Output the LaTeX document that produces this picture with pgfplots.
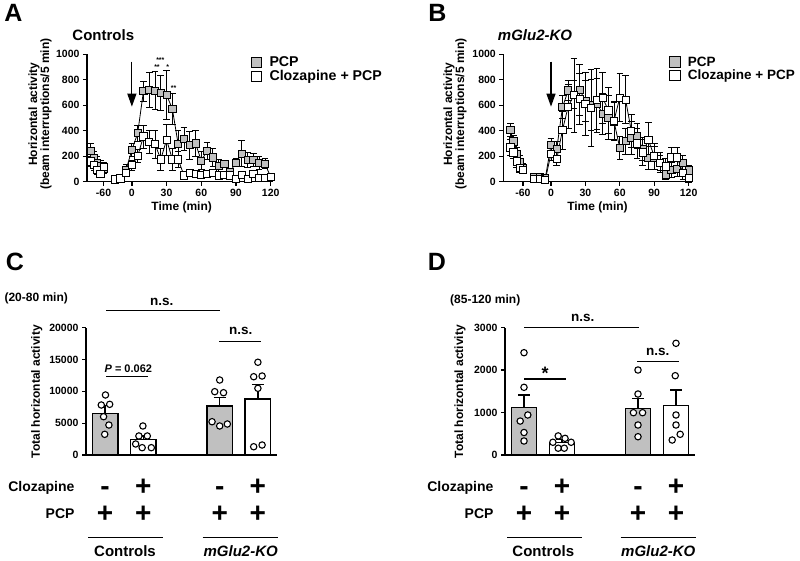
\documentclass[border=0pt]{standalone}
\usepackage{fontspec}
\setmainfont{Liberation Sans}
\usepackage{pgfplots}
\usepackage{pgfplotstable}
\pgfplotsset{compat=1.18}
\usetikzlibrary{arrows.meta}
\definecolor{pcpgray}{RGB}{192,192,192}
\newcommand\fsz[1]{\fontsize{#1}{#1}\selectfont}

% Panel A: controls (t in min; pre = habituation segment)
\pgfplotstableread{
t pcp pcpe clz clze
-80 240 60 160 40
-75 185 50 130 40
-70 150 50 95 40
-65 120 50 60 30
-60 105 40 115 40
}\Apre
\pgfplotstableread{
t pcp pcpe clz clze
-15 25 15 18 10
-10 25 15 26 10
-5 95 40 70 25
0 250 50 130 40
5 380 60 200 50
10 710 80 355 90
15 720 140 310 90
20 715 150 295 110
25 697 135 175 90
30 681 190 330 120
35 571 120 175 90
40 295 110 175 60
45 335 90 50 20
50 287 110 70 20
55 300 100 60 20
60 165 70 55 20
65 242 65 60 20
70 190 70 70 20
75 124 50 50 20
80 142 20 55 20
85 79 20 50 20
90 150 30 20 15
95 221 100 55 20
100 169 60 20 15
105 169 50 60 20
110 150 50 30 15
115 142 40 30 15
120 37 20 40 15
}\Amain
% Panel B: mGlu2-KO
\pgfplotstableread{
t pcp pcpe clz clze
-80 406 50 270 60
-75 316 50 230 50
-70 216 50 160 50
-65 158 50 110 40
-60 106 40 95 30
}\Bpre
\pgfplotstableread{
t pcp pcpe clz clze
-15 37 15 25 10
-10 37 15 20 10
-5 26 10 15 10
0 289 50 220 50
5 255 60 177 50
10 584 90 405 150
15 716 80 590 170
20 682 110 680 290
25 720 200 650 200
30 637 160 610 250
35 605 200 580 300
40 611 200 640 250
45 535 160 660 200
50 505 170 560 180
55 471 150 480 150
60 263 90 660 190
65 318 100 645 190
70 345 130 400 130
75 360 100 300 120
80 255 90 230 100
85 184 90 327 140
90 187 90 200 100
95 150 60 150 80
100 58 40 120 60
105 95 60 190 80
110 100 60 190 80
115 150 60 71 50
120 89 40 27 30
}\Bmain

\pgfplotsset{
  gp/.style={
    scale only axis, clip=false,
    axis x line*=bottom, axis y line*=left,
    axis line style={line width=1.3pt, -},
    tick style={line width=1.3pt, black},
    major tick length=4pt, tick align=outside,
    tick label style={font=\bfseries\fsz{10.5}},
    /pgf/number format/assume math mode=true,
    /pgf/number format/1000 sep={},
    scaled ticks=false,
    label style={font=\bfseries\fsz{12}},
  },
  ser/.style={black, line width=0.8pt, mark=square*, mark size=3.6pt,
    mark options={fill=#1, draw=black, line width=0.8pt, solid},
    error bars/.cd, y dir=both, y explicit,
    error bar style={line width=0.8pt, black},
    error mark options={rotate=90, mark size=3.3pt, line width=0.8pt, black}},
  leg/.style={legend style={at={(axis description cs:0.8817,0.995)}, anchor=north west,
    draw=none, fill=none, inner sep=0pt, row sep=-0.6pt, column sep=6.2pt,
    font=\bfseries\fsz{#1}, nodes={inner sep=1.5pt, font=\bfseries\fsz{#1}}}, legend cell align=left},
  bar/.style={ybar, bar shift=0pt, bar width=25.5pt, fill=#1, draw=black, line width=1.4pt,
    error bars/.cd, y dir=plus, y explicit,
    error bar style={line width=1.4pt, black},
    error mark options={rotate=90, mark size=6pt, line width=1.4pt, black}},
  dots/.style={only marks, mark=*, mark size=3.2pt,
    mark options={fill=white, draw=black, line width=1.1pt}},
}

\begin{document}
\begin{tikzpicture}[x=1pt, y=1pt]
\useasboundingbox (0,0) rectangle (800,560);

% ---------------- A ----------------
\begin{axis}[gp, leg=14.2, at={(87pt,378.3pt)}, anchor=south west, width=186pt, height=127.4pt,
  xmin=-38.8, xmax=122, ymin=0, ymax=1000, ytick={0,200,400,600,800,1000},
  xtick={-24.5,0,30,60,90,120}, xticklabels={-60,0,30,60,90,120},
  xlabel={Time (min)}, xlabel style={at={(axis description cs:0.509,-0.204)}, anchor=center, font=\bfseries\fsz{12}},
  ylabel={Horizontal activity\\(beam interruptions/5 min)},
  ylabel style={align=center, at={(axis description cs:-0.252,0.531)}, anchor=center}]
\addplot[forget plot, ser=pcpgray] table[x expr={-24.5+0.55*(\thisrow{t}+60)}, y=pcp, y error=pcpe]{\Apre};
\addplot[forget plot, ser=pcpgray] table[x=t, y=pcp, y error=pcpe]{\Amain};
\addplot[forget plot, ser=white] table[x expr={-24.5+0.55*(\thisrow{t}+60)}, y=clz, y error=clze]{\Apre};
\addplot[forget plot, ser=white] table[x=t, y=clz, y error=clze]{\Amain};
\addlegendimage{only marks, mark=square*, mark size=5.3pt, mark options={fill=pcpgray, draw=black, line width=1pt}}
\addlegendentry{PCP}
\addlegendimage{only marks, mark=square*, mark size=5.3pt, mark options={fill=white, draw=black, line width=1pt}}
\addlegendentry{Clozapine + PCP}
\draw[line width=1.2pt, -{Triangle[width=9pt,length=13pt]}] (axis cs:0,942) -- (axis cs:0,589);
\node[anchor=base, font=\bfseries\fsz{7}] at (axis cs:21.7,880) {**};
\node[anchor=base, font=\bfseries\fsz{7}] at (axis cs:24.6,932) {***};
\node[anchor=base, font=\bfseries\fsz{7}] at (axis cs:30.9,880) {*};
\node[anchor=base, font=\bfseries\fsz{7}] at (axis cs:36,717) {**};
\end{axis}

% ---------------- B ----------------
\begin{axis}[gp, leg=13.5, at={(503.3pt,378.3pt)}, anchor=south west, width=188.4pt, height=127.4pt,
  xmin=-41.6, xmax=122.7, ymin=0, ymax=1000, ytick={0,200,400,600,800,1000},
  xtick={-24.5,0,30,60,90,120}, xticklabels={-60,0,30,60,90,120},
  xlabel={Time (min)}, xlabel style={at={(axis description cs:0.5,-0.204)}, anchor=center, font=\bfseries\fsz{12}},
  ylabel={Horizontal activity\\(beam interruptions/5 min)},
  ylabel style={align=center, at={(axis description cs:-0.256,0.531)}, anchor=center}]
\addplot[forget plot, ser=pcpgray] table[x expr={-24.5+0.55*(\thisrow{t}+60)}, y=pcp, y error=pcpe]{\Bpre};
\addplot[forget plot, ser=pcpgray] table[x=t, y=pcp, y error=pcpe]{\Bmain};
\addplot[forget plot, ser=white] table[x expr={-24.5+0.55*(\thisrow{t}+60)}, y=clz, y error=clze]{\Bpre};
\addplot[forget plot, ser=white] table[x=t, y=clz, y error=clze]{\Bmain};
\addlegendimage{only marks, mark=square*, mark size=5.3pt, mark options={fill=pcpgray, draw=black, line width=1pt}}
\addlegendentry{PCP}
\addlegendimage{only marks, mark=square*, mark size=5.3pt, mark options={fill=white, draw=black, line width=1pt}}
\addlegendentry{Clozapine + PCP}
\draw[line width=1.2pt, -{Triangle[width=9pt,length=13pt]}] (axis cs:0,942) -- (axis cs:0,589);
\end{axis}

% ---------------- C ----------------
\begin{axis}[gp, at={(86pt,105pt)}, anchor=south west, width=191pt, height=127.3pt,
  xmin=-0.5, xmax=4.5, ymin=0, ymax=20000, ytick={0,5000,10000,15000,20000}, xtick=\empty,
  ylabel={Total horizontal activity},
  ylabel style={at={(axis description cs:-0.258,0.497)}, anchor=center}]
\addplot[bar=pcpgray] coordinates {(0,6550) +- (0,1200) (3,7700) +- (0,1300)};
\addplot[bar=white] coordinates {(1,2430) +- (0,550) (4,8770) +- (0,2350)};
\addplot[dots] table {
x y
0.01 9430
-0.1 7855
0.12 7960
-0.04 6020
0.1 4710
-0.01 3250
0.99 4560
0.885 2990
1.105 2990
0.8 1730
0.97 1150
1.21 1150
3 11780
2.87 9950
3.1 9790
2.8 5230
3 4560
3.2 4870
4 14570
3.89 12300
4.11 12410
4 10480
3.89 1300
4.11 1570
};
\end{axis}

% ---------------- D ----------------
\begin{axis}[gp, at={(505pt,105pt)}, anchor=south west, width=190pt, height=127.3pt,
  xmin=-0.5, xmax=4.5, ymin=0, ymax=3000, ytick={0,1000,2000,3000}, xtick=\empty,
  ylabel={Total horizontal activity},
  ylabel style={at={(axis description cs:-0.237,0.497)}, anchor=center}]
\addplot[bar=pcpgray] coordinates {(0,1115) +- (0,300) (3,1100) +- (0,236)};
\addplot[bar=white] coordinates {(1,295) +- (0,70) (4,1162) +- (0,370)};
\addplot[dots] table {
x y
0 2411
0 1595
0.1 943
-0.1 800
0 530
0 330
0.9 450
1.08 393
0.76 300
0.9 160
1.06 160
1.24 300
3 2003
3 1437
2.88 997
3.12 997
3 707
3 431
4 2632
3.98 1869
4 943
4 707
4.11 488
3.9 353
};
\end{axis}

% ---------------- annotations ----------------
\begin{scope}[font=\bfseries]
\node[font=\bfseries\fsz{25}] at (13.3,547) {A};
\node[font=\bfseries\fsz{25}] at (437.5,547) {B};
\node[font=\bfseries\fsz{25}] at (15,298) {C};
\node[font=\bfseries\fsz{25}] at (437,298) {D};
\node[anchor=base, font=\bfseries\fsz{15}] at (103.3,519.6) {Controls};
\node[anchor=base, font=\bfseries\fsz{15}] at (535,519.6) {\textit{mGlu2-KO}};

% C
\node[anchor=west, font=\bfseries\fsz{12}] at (1,262) {(20-80 min)};
\draw[line width=1.2pt] (106,249.3) -- (220,249.3);
\node[font=\bfseries\fsz{13.5}] at (161.7,258.3) {n.s.};
\draw[line width=1.2pt] (219,218.3) -- (261,218.3);
\node[font=\bfseries\fsz{13.5}] at (240.7,229.3) {n.s.};
\draw[line width=1.2pt] (106,183.3) -- (148,183.3);
\node[font=\bfseries\fsz{11}] at (128.3,191.7) {\textit{P} = 0.062};
\node[anchor=base east, font=\bfseries\fsz{14}] at (78,69) {Clozapine};
\node[anchor=base east, font=\bfseries\fsz{14}] at (78,41.7) {PCP};
\foreach \xx in {105.1,219.7} \node[anchor=base, font=\bfseries\fsz{28}] at (\xx,64.1) {-};
\foreach \xx in {143.3,257.9} \node[anchor=base, font=\bfseries\fsz{28}] at (\xx,64.1) {+};
\foreach \xx in {105.1,143.3,219.7,257.9} \node[anchor=base, font=\bfseries\fsz{28}] at (\xx,37.1) {+};
\draw[line width=1.3pt] (88.3,22.7) -- (163.3,22.7);
\draw[line width=1.3pt] (202.7,22.7) -- (277.7,22.7);
\node[anchor=base, font=\bfseries\fsz{15}] at (125,3.2) {Controls};
\node[anchor=base, font=\bfseries\fsz{15}] at (240.7,3.2) {\textit{mGlu2-KO}};

% D
\node[anchor=west, font=\bfseries\fsz{12}] at (446.7,259.3) {(85-120 min)};
\draw[line width=1.2pt] (524.3,232.3) -- (639.3,232.3);
\node[font=\bfseries\fsz{13.5}] at (582.7,241.7) {n.s.};
\draw[line width=1.2pt] (524.3,181) -- (565.7,181);
\node[anchor=base, font=\bfseries\fsz{18}] at (545,180.5) {*};
\draw[line width=1.2pt] (637.3,198.3) -- (679.3,198.3);
\node[font=\bfseries\fsz{13.5}] at (657.7,208.3) {n.s.};
\node[anchor=base east, font=\bfseries\fsz{14}] at (497,69) {Clozapine};
\node[anchor=base east, font=\bfseries\fsz{14}] at (497,41.7) {PCP};
\foreach \xx in {524,638} \node[anchor=base, font=\bfseries\fsz{28}] at (\xx,64.1) {-};
\foreach \xx in {562,676} \node[anchor=base, font=\bfseries\fsz{28}] at (\xx,64.1) {+};
\foreach \xx in {524,562,638,676} \node[anchor=base, font=\bfseries\fsz{28}] at (\xx,37.1) {+};
\draw[line width=1.3pt] (507.3,22.7) -- (581.7,22.7);
\draw[line width=1.3pt] (620.7,22.7) -- (696,22.7);
\node[anchor=base, font=\bfseries\fsz{15}] at (543.3,3.2) {Controls};
\node[anchor=base, font=\bfseries\fsz{15}] at (658.3,3.2) {\textit{mGlu2-KO}};
\end{scope}
\end{tikzpicture}
\end{document}
